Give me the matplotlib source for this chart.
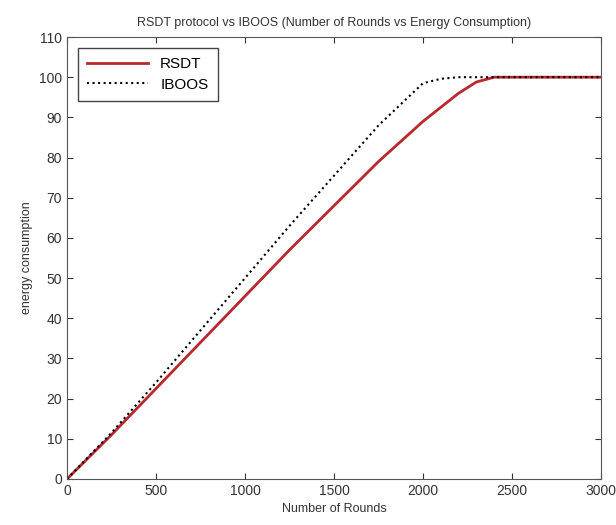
import matplotlib.pyplot as plt

plt.rcParams['font.family'] = ['Liberation Sans', 'DejaVu Sans']

# values
rounds = [0, 250, 500, 750, 1000, 1250, 1500, 1750, 2000, 2100, 2200, 2300, 2400, 2500, 2750, 3000]
rsdt = [0, 11, 22.5, 34, 45.5, 57, 68, 79, 89, 92.5, 96, 98.8, 100, 100, 100, 100]
iboos = [0, 11.5, 24, 37, 50, 63, 75.5, 88, 98.5, 99.6, 100, 100, 100, 100, 100, 100]

fig = plt.figure(figsize=(6.16, 5.25), dpi=100)
ax = fig.add_axes([67/616, 1 - 479/525, (601 - 67)/616, (479 - 37)/525])

ax.plot(rounds, rsdt, color='#b8282e', linewidth=2, label='RSDT')
ax.plot(rounds, iboos, color='black', linestyle=':', linewidth=1.5, label='IBOOS')

ax.set_xlim(0, 3000)
ax.set_ylim(0, 110)
ax.set_xticks(range(0, 3001, 500))
ax.set_yticks(range(0, 111, 10))
ax.tick_params(direction='in', labelsize=10, length=4, colors='#333333',
               top=True, right=True)
for s in ax.spines.values():
    s.set_color('#555555')

ax.set_xlabel("Number of Rounds", fontsize=9, color='#333333')
ax.set_ylabel("energy consumption", fontsize=9, color='#333333')
ax.set_title("RSDT protocol vs IBOOS (Number of Rounds vs Energy Consumption)",
             fontsize=9, color='#333333', pad=8)

leg = ax.legend(loc='upper left', fontsize=11, fancybox=False, framealpha=1,
                edgecolor='#444444', handlelength=4, borderpad=0.6,
                borderaxespad=0.7, labelspacing=0.45)
leg.get_frame().set_linewidth(1)

fig.savefig("out.png", dpi=100)
